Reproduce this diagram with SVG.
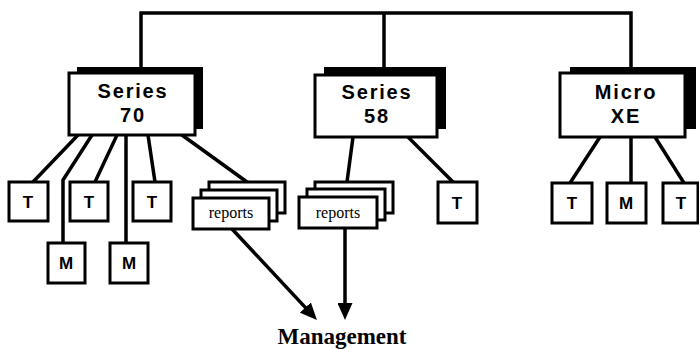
<svg xmlns="http://www.w3.org/2000/svg" width="699" height="349" viewBox="0 0 699 349">
<defs>
<style>
.bx{fill:#fff;stroke:#000;stroke-width:3}
.sh{fill:#000}
.ln{stroke:#000;stroke-width:3.5;fill:none;stroke-linecap:square}
.big{font-family:"Liberation Sans",Arial,sans-serif;font-weight:bold;font-size:20px;letter-spacing:1.8px;text-anchor:middle;fill:#000}
.sm{font-family:"Liberation Sans",Arial,sans-serif;font-weight:bold;font-size:17px;text-anchor:middle;fill:#000}
.rp{font-family:"Liberation Serif","Times New Roman",serif;font-size:16px;text-anchor:middle;fill:#000}
.mg{font-family:"Liberation Serif","Times New Roman",serif;font-weight:bold;font-size:23px;text-anchor:middle;fill:#000}
</style>
<marker id="ah" markerWidth="17" markerHeight="15" refX="9" refY="7.5" orient="auto" markerUnits="userSpaceOnUse">
<path d="M0,0 L17,7.5 L0,15 Z" fill="#000"/>
</marker>
</defs>
<g id="connectors">
<path class="ln" d="M141,71 V13 H631 V71 M384,13 V71" stroke-width="4"/>
<path class="ln" d="M78,135 L33,182"/>
<path class="ln" d="M92,135 L63,180 V243"/>
<path class="ln" d="M117,135 L95,182"/>
<path class="ln" d="M126,135 V243"/>
<path class="ln" d="M148,135 L155,182"/>
<path class="ln" d="M182,135 L247,182"/>
<path class="ln" d="M353,137 L347,182"/>
<path class="ln" d="M408,137 L453,182"/>
<path class="ln" d="M600,137 L570,183"/>
<path class="ln" d="M631,137 V183"/>
<path class="ln" d="M655,137 L684,183"/>
<path class="ln" d="M233,230 L311.5,314.1" marker-end="url(#ah)" stroke-linecap="butt"/>
<path class="ln" d="M345,230 V312" marker-end="url(#ah)" stroke-linecap="butt"/>
</g>
<g id="series70">
<rect class="sh" x="77" y="67" width="126" height="62"/>
<rect class="bx" x="69" y="73" width="126" height="62"/>
<text class="big" x="133" y="98">Series</text>
<text class="big" x="133" y="122">70</text>
</g>
<g id="series58">
<rect class="sh" x="324" y="67" width="122" height="62"/>
<rect class="bx" x="315" y="75" width="122" height="62"/>
<text class="big" x="377" y="99">Series</text>
<text class="big" x="377" y="123">58</text>
</g>
<g id="microxe">
<rect class="sh" x="570" y="67" width="126" height="62"/>
<rect class="bx" x="560" y="73" width="125" height="64"/>
<text class="big" x="626" y="99">Micro</text>
<text class="big" x="626" y="123">XE</text>
</g>
<g id="t1"><rect class="bx" x="9" y="182" width="39" height="39"/><text class="sm" x="28" y="208">T</text></g>
<g id="t2"><rect class="bx" x="70" y="182" width="38" height="39"/><text class="sm" x="89" y="208">T</text></g>
<g id="t3"><rect class="bx" x="133" y="182" width="38" height="39"/><text class="sm" x="152" y="208">T</text></g>
<g id="m1"><rect class="bx" x="48" y="243" width="37" height="40"/><text class="sm" x="66" y="269">M</text></g>
<g id="m2"><rect class="bx" x="110" y="243" width="38" height="40"/><text class="sm" x="129" y="269">M</text></g>
<g id="reports70">
<rect class="bx" x="209" y="182" width="76" height="31"/>
<rect class="bx" x="201" y="190" width="76" height="31"/>
<rect class="bx" x="193" y="198" width="76" height="31"/>
<text class="rp" x="231" y="218">reports</text>
</g>
<g id="reports58">
<rect class="bx" x="315" y="182" width="78" height="31"/>
<rect class="bx" x="307" y="189" width="78" height="31"/>
<rect class="bx" x="299" y="197" width="78" height="31"/>
<text class="rp" x="338" y="218">reports</text>
</g>
<g id="t4"><rect class="bx" x="438" y="182" width="39" height="41"/><text class="sm" x="457" y="209">T</text></g>
<g id="t5"><rect class="bx" x="552" y="183" width="40" height="40"/><text class="sm" x="572" y="209">T</text></g>
<g id="m3"><rect class="bx" x="607" y="183" width="39" height="40"/><text class="sm" x="626" y="209">M</text></g>
<g id="t6"><rect class="bx" x="663" y="183" width="35" height="40"/><text class="sm" x="681" y="209">T</text></g>
<g id="management"><text class="mg" x="342" y="344">Management</text></g>
</svg>
